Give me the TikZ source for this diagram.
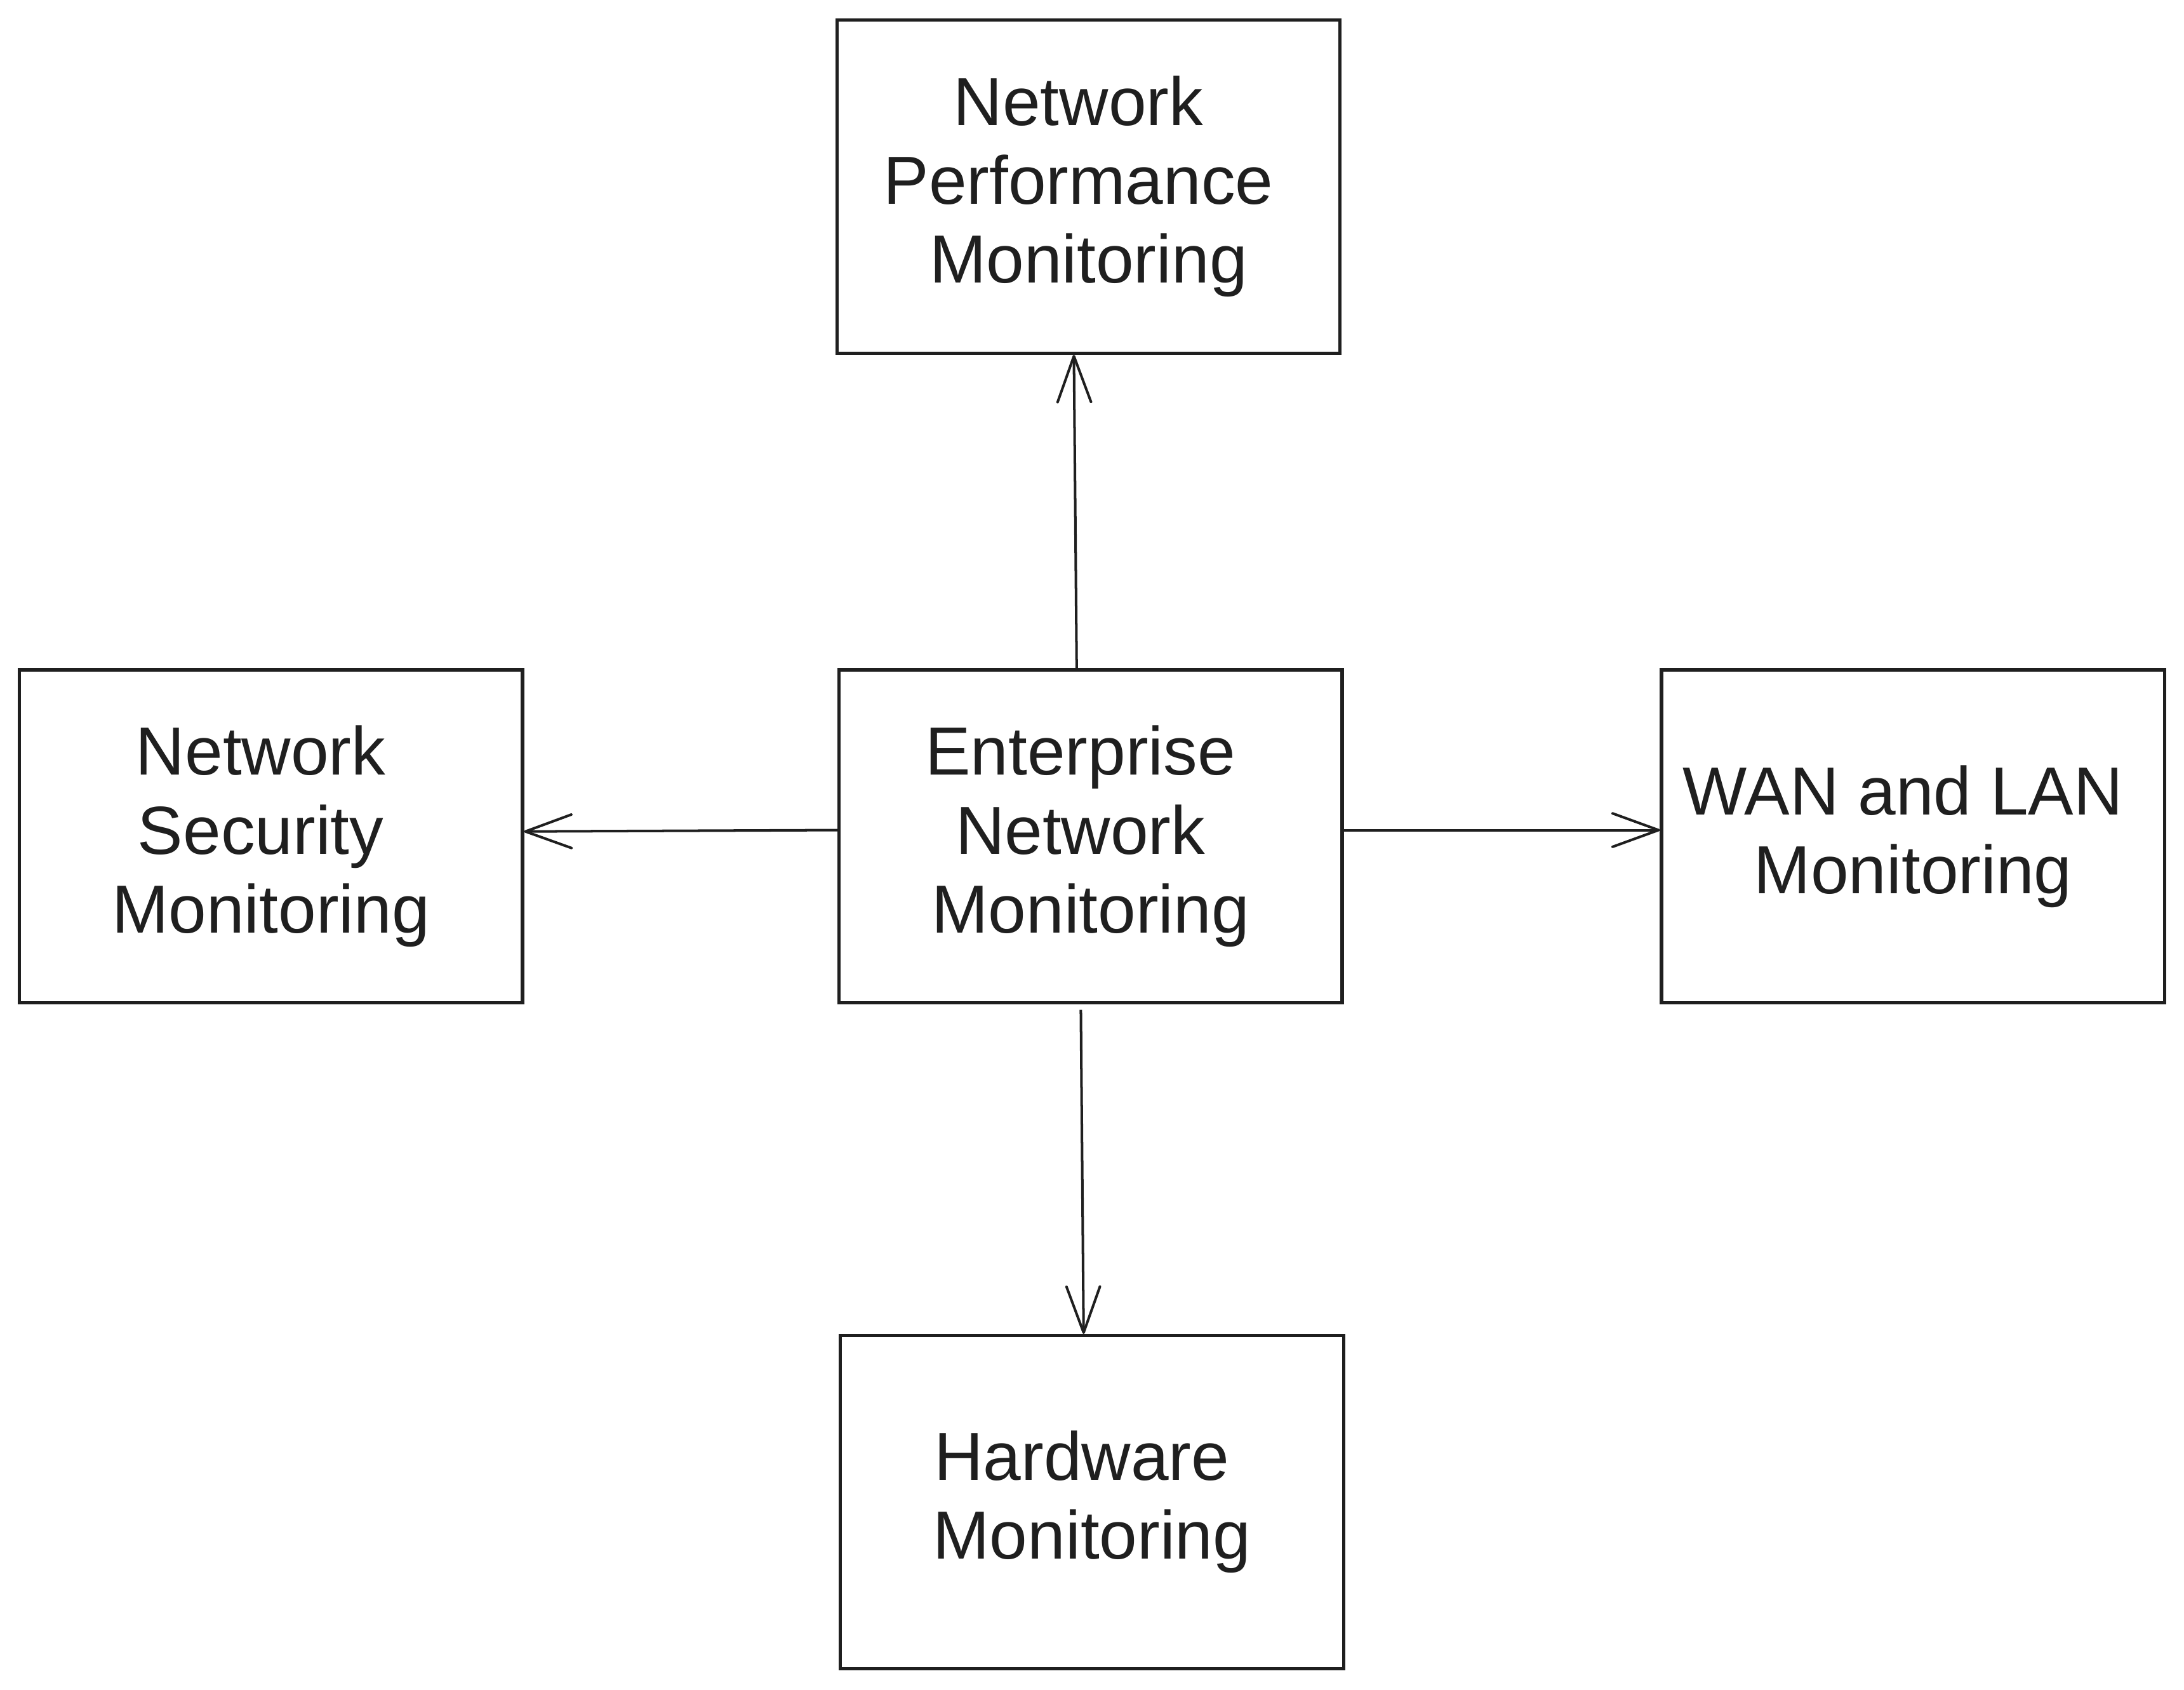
\documentclass[tikz,border=0pt]{standalone}
\usepackage{fontspec}
\setmainfont{Liberation Sans}
\usetikzlibrary{arrows.meta}
\definecolor{ink}{HTML}{1F1F1F}
\newcommand{\tsp}{\rule{.3em}{0pt}}
\begin{document}
\begin{tikzpicture}[x=0.01cm,y=-0.01cm,
  box/.style={draw=ink,line width=0.68pt,rectangle,minimum width=3.61cm,minimum height=2.39cm,
    align=center,text=ink,font=\fontsize{13.9}{16.1}\selectfont,inner sep=0pt},
  arr/.style={draw=ink,line width=0.52pt,-{Straight Barb[length=3.3mm,width=2.4mm,round]}}]
\useasboundingbox (0,0) rectangle (1568,1213);
\node[box] (t) at (781.5,134) {Network\tsp\\Performance\tsp\\Monitoring};
\node[box] (l) at (194.5,600.5) {Network\tsp\\Security\tsp\\Monitoring};
\node[box] (c) at (783,600.5) {Enterprise\tsp\\Network\tsp\\Monitoring};
\node[box] (r) at (1373.5,600.5) {WAN and LAN\tsp\\Monitoring};
\node[box] (b) at (784,1078.5) {Hardware\tsp\\Monitoring};
\coordinate (bs) at (776,725);
\draw[arr] (c.north -| 773,0) -- (t.south -| 771,0);
\draw[arr] (c.west |- 0,596) -- (l.east |- 0,597);
\draw[arr] (c.east |- 0,596) -- (r.west |- 0,596);
\draw[arr] (bs) -- (b.north -| 778,0);
\end{tikzpicture}
\end{document}
